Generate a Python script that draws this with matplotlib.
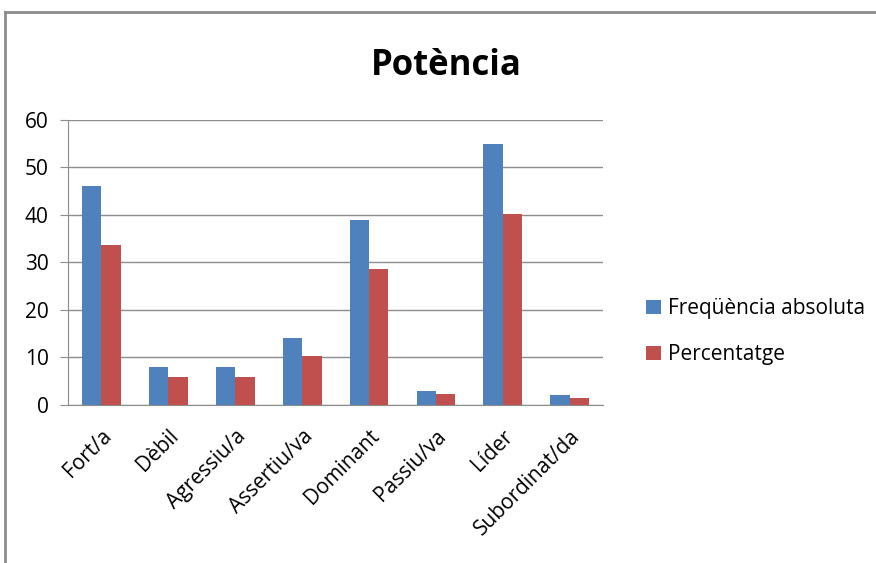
import numpy as np
import matplotlib.pyplot as plt
from matplotlib.lines import Line2D

plt.rcParams['font.family'] = ['Open Sans', 'DejaVu Sans']

categories = ["Fort/a", "Dèbil", "Agressiu/a", "Assertiu/va", "Dominant",
              "Passiu/va", "Líder", "Subordinat/da"]
freq_abs = [46, 8, 8, 14, 39, 3, 55, 2]
percent = [33.6, 5.8, 5.8, 10.2, 28.5, 2.2, 40.1, 1.5]
series_names = ["Freqüència absoluta", "Percentatge"]
yticks = [0, 10, 20, 30, 40, 50, 60]

BLUE = "#4F81BD"
RED = "#C0504D"
GRID = "#8C8C8C"

fig = plt.figure(figsize=(8.76, 5.63), dpi=100)
ax = fig.add_axes([0.0776, 0.281, 0.611, 0.506])

x = np.arange(len(categories))
w = 0.29
ax.bar(x - w / 2, freq_abs, width=w, color=BLUE, label=series_names[0], zorder=3)
ax.bar(x + w / 2, percent, width=w, color=RED, label=series_names[1], zorder=3)

ax.set_xlim(-0.5, len(categories) - 0.5)
ax.set_ylim(0, 60)
ax.set_yticks(yticks)
ax.yaxis.grid(True, color=GRID, linewidth=1, zorder=0)
ax.set_axisbelow(True)

for s in ["top", "right"]:
    ax.spines[s].set_visible(False)
ax.spines["left"].set_color(GRID)
ax.spines["bottom"].set_color(GRID)

ax.tick_params(axis="y", length=6, color=GRID, labelsize=15, pad=8)
ax.tick_params(axis="x", length=0, labelsize=15, pad=15)
ax.set_xticks(x)
ax.set_xticklabels(categories, rotation=45, ha="right", rotation_mode="anchor")

fig.text(0.509, 0.883, "Potència", ha="center", va="center",
         fontsize=25, fontweight="bold")

ax.legend(loc="center left", bbox_to_anchor=(1.045, 0.257), frameon=False,
          fontsize=15, handlelength=0.7, handleheight=0.7,
          handletextpad=0.35, labelspacing=1.2)

# outer chart border (top and left edges visible)
fig.add_artist(Line2D([0.006, 1.0], [0.979, 0.979], color="#8C8C8C", lw=2,
                      transform=fig.transFigure))
fig.add_artist(Line2D([0.006, 0.006], [0.0, 0.979], color="#8C8C8C", lw=2,
                      transform=fig.transFigure))

fig.savefig("out.png", dpi=100)
